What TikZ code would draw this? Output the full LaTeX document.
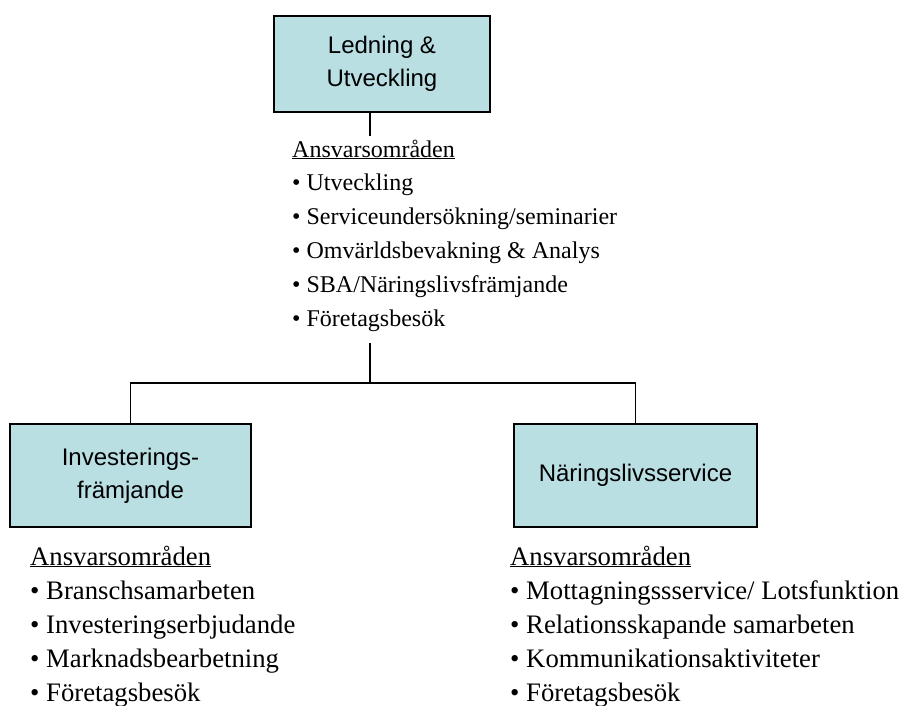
\documentclass[tikz,border=0pt]{standalone}
\usepackage{fontspec}
\setmainfont{Liberation Serif}
\newfontfamily\boxfont{Liberation Sans}
\definecolor{boxfill}{RGB}{185,223,227}
\begin{document}
\begin{tikzpicture}[x=1pt,y=-1pt,
  orgbox/.style={draw=black, line width=1.3pt, fill=boxfill, rectangle, inner sep=0pt,
    font={\boxfont\fontsize{24}{33}\selectfont}, align=center},
  listtext/.style={inner sep=0pt, anchor=base west, align=left,
    font={\fontsize{24}{33.8}\selectfont}},
  biglist/.style={listtext, font={\fontsize{26.7}{34.2}\selectfont}},
  conn/.style={draw=black, line width=1.3pt}]
\useasboundingbox (0,0) rectangle (899,706);
\node[orgbox, minimum width=216pt, minimum height=96pt] (top) at (382,64) {Ledning \&\\Utveckling};
\node[orgbox, minimum width=241pt, minimum height=103pt] (left) at (130.5,475.5) {Investerings-\\främjande};
\node[orgbox, minimum width=243pt, minimum height=103pt] (right) at (635.5,475.5) {Näringslivsservice};
% base anchor of a multi-line node = baseline of its last line
\node[listtext] (toplist) at (292,326) {\underline{Ansvarsområden}\\• Utveckling\\• Serviceundersökning/seminarier\\• Omvärldsbevakning \& Analys\\• SBA/Näringslivsfrämjande\\• Företagsbesök};
\node[biglist] (leftlist) at (30,701.8) {\underline{Ansvarsområden}\\• Branschsamarbeten\\• Investeringserbjudande\\• Marknadsbearbetning\\• Företagsbesök};
\node[biglist] (rightlist) at (510,701.8) {\underline{Ansvarsområden}\\• Mottagningssservice/ Lotsfunktion\\• Relationsskapande samarbeten\\• Kommunikationsaktiviteter\\• Företagsbesök};
\coordinate (tl) at (370,136);
\coordinate (ctop) at (370,343);
\coordinate (hub) at (370,383);
\draw[conn] (top.south -| tl) -- (tl);
\draw[conn] (ctop) -- (hub);
\draw[conn] (left.north) -- (left.north |- hub) -- (right.north |- hub) -- (right.north);
\end{tikzpicture}
\end{document}
